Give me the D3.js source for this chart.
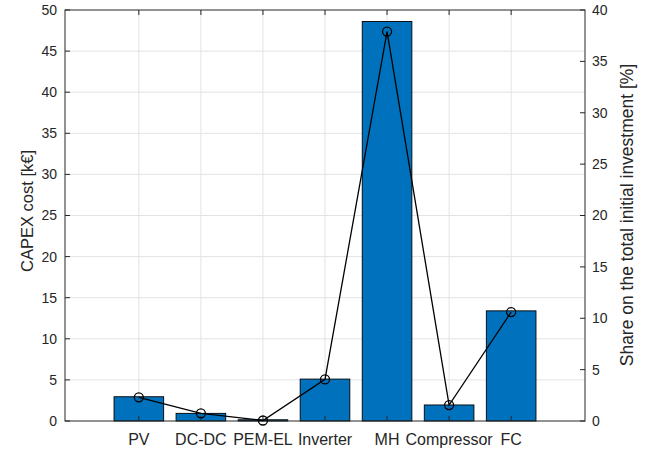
<!DOCTYPE html>
<html>
<head>
<meta charset="utf-8">
<script src="https://cdn.jsdelivr.net/npm/d3@7"></script>
<style>
body { margin: 0; background: #fff; }
text { font-family: 'Liberation Sans', Arial, sans-serif; fill: #262626; }
</style>
</head>
<body>
<div id="graph"></div>
<script>
var categories = ['PV', 'DC-DC', 'PEM-EL', 'Inverter', 'MH', 'Compressor', 'FC']
var capex = [2.95, 0.93, 0.15, 5.1, 48.6, 1.95, 13.4]
var share = [2.3, 0.75, 0.05, 4.05, 37.9, 1.55, 10.6]
var leftTicks = d3.range(0, 51, 5)
var rightTicks = d3.range(0, 41, 5)

var W = 657, H = 452
var margin = {top: 10, left: 65, right: 72, bottom: 31}
var width = W - margin.left - margin.right
var height = H - margin.top - margin.bottom

var svg = d3.select('#graph').append('svg')
	.attr('width', W).attr('height', H)
var g = svg.append('g').attr('transform', 'translate(' + margin.left + ',' + margin.top + ')')

var pad = 1.19
var x = d3.scaleLinear().domain([1 - pad, categories.length + pad]).range([0, width])
var yL = d3.scaleLinear().domain([0, 50]).range([height, 0])
var yR = d3.scaleLinear().domain([0, 40]).range([height, 0])
var cx = i => x(i + 1)

var axisColor = '#262626'
var gridColor = '#e3e3e3'
var tl = 5

// grid
g.selectAll('line.hgrid').data(leftTicks.slice(1, -1)).join('line')
	.attr('x1', 0).attr('x2', width)
	.attr('y1', d => yL(d)).attr('y2', d => yL(d))
	.attr('stroke', gridColor)
g.selectAll('line.vgrid').data(categories).join('line')
	.attr('x1', (d, i) => cx(i)).attr('x2', (d, i) => cx(i))
	.attr('y1', 0).attr('y2', height)
	.attr('stroke', gridColor)

// bars
var bw = x(1.8) - x(1)
g.selectAll('rect.bar').data(capex).join('rect')
	.attr('x', (d, i) => cx(i) - bw / 2)
	.attr('width', bw)
	.attr('y', d => yL(d))
	.attr('height', d => height - yL(d))
	.attr('fill', '#0072BD')
	.attr('stroke', '#000')
	.attr('stroke-width', 0.9)

// box
g.append('rect').attr('width', width).attr('height', height)
	.attr('fill', 'none').attr('stroke', axisColor).attr('stroke-width', 1)

// ticks
g.selectAll('line.lt').data(leftTicks).join('line')
	.attr('x1', 0).attr('x2', tl).attr('y1', d => yL(d)).attr('y2', d => yL(d))
	.attr('stroke', axisColor)
g.selectAll('line.rt').data(rightTicks).join('line')
	.attr('x1', width - tl).attr('x2', width).attr('y1', d => yR(d)).attr('y2', d => yR(d))
	.attr('stroke', axisColor)
categories.forEach((c, i) => {
	g.append('line').attr('x1', cx(i)).attr('x2', cx(i)).attr('y1', height).attr('y2', height - tl).attr('stroke', axisColor)
	g.append('line').attr('x1', cx(i)).attr('x2', cx(i)).attr('y1', 0).attr('y2', tl).attr('stroke', axisColor)
})

// tick labels
g.selectAll('text.ll').data(leftTicks).join('text')
	.attr('x', -8).attr('y', d => yL(d)).attr('dy', '0.35em')
	.attr('text-anchor', 'end').style('font-size', '14px').text(d => d)
g.selectAll('text.rl').data(rightTicks).join('text')
	.attr('x', width + 7).attr('y', d => yR(d)).attr('dy', '0.35em')
	.attr('text-anchor', 'start').style('font-size', '14px').text(d => d)
g.selectAll('text.xl').data(categories).join('text')
	.attr('x', (d, i) => cx(i)).attr('y', height + 24)
	.attr('text-anchor', 'middle').style('font-size', '16px').text(d => d)

// axis labels
svg.append('text').attr('transform', 'translate(33,' + 211 + ') rotate(-90)')
	.attr('text-anchor', 'middle').style('font-size', '16.5px').text('CAPEX cost [k€]')
svg.append('text').attr('transform', 'translate(633,' + 215 + ') rotate(-90)')
	.attr('text-anchor', 'middle').style('font-size', '17.5px').text('Share on the total initial investment [%]')

// share line
var line = d3.line().x((d, i) => cx(i)).y(d => yR(d))
g.append('path').datum(share).attr('d', line)
	.attr('fill', 'none').attr('stroke', '#000').attr('stroke-width', 1.3)
g.selectAll('circle.pt').data(share).join('circle')
	.attr('cx', (d, i) => cx(i)).attr('cy', d => yR(d)).attr('r', 4.5)
	.attr('fill', 'none').attr('stroke', '#000').attr('stroke-width', 1.3)
</script>
</body>
</html>
